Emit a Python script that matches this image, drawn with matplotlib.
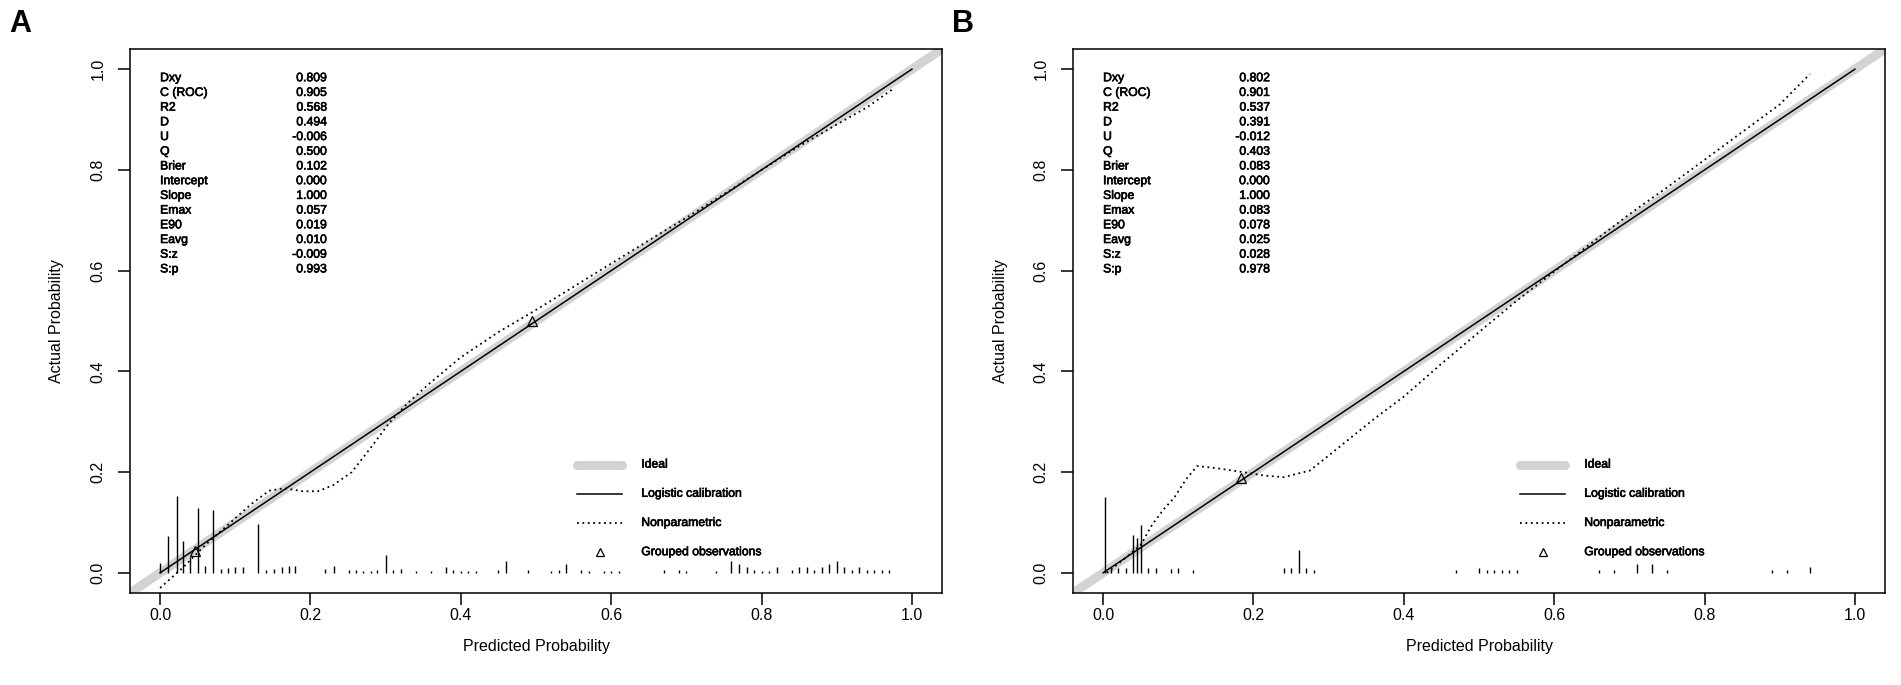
import matplotlib
matplotlib.use("Agg")
import matplotlib.pyplot as plt
import matplotlib.patheffects as pe

plt.rcParams['font.family'] = ['Liberation Sans', 'DejaVu Sans']

# 坐标刻度
ticks = [0.0, 0.2, 0.4, 0.6, 0.8, 1.0]
tick_labels = ['0.0', '0.2', '0.4', '0.6', '0.8', '1.0']

# 统计量
stat_names = ['Dxy', 'C (ROC)', 'R2', 'D', 'U', 'Q', 'Brier', 'Intercept',
              'Slope', 'Emax', 'E90', 'Eavg', 'S:z', 'S:p']
stats_a = ['0.809', '0.905', '0.568', '0.494', '-0.006', '0.500', '0.102',
           '0.000', '1.000', '0.057', '0.019', '0.010', '-0.009', '0.993']
stats_b = ['0.802', '0.901', '0.537', '0.391', '-0.012', '0.403', '0.083',
           '0.000', '1.000', '0.083', '0.078', '0.025', '0.028', '0.978']

legend_names = ['Ideal', 'Logistic calibration', 'Nonparametric', 'Grouped observations']

# logistic calibration (intercept 0, slope 1)
logit_x = [0.0, 1.0]
logit_y = [0.0, 1.0]

# nonparametric 曲线 A
np_x_a = [0.0, 0.03, 0.06, 0.09, 0.12, 0.145, 0.165, 0.19, 0.21, 0.23, 0.255,
          0.28, 0.305, 0.33, 0.36, 0.4, 0.45, 0.5, 0.55, 0.6, 0.65, 0.7,
          0.75, 0.8, 0.85, 0.9, 0.94, 0.976]
np_y_a = [-0.03, 0.01, 0.055, 0.095, 0.135, 0.163, 0.168, 0.162, 0.162, 0.174,
          0.2, 0.248, 0.298, 0.338, 0.378, 0.428, 0.478, 0.522, 0.568, 0.614,
          0.66, 0.705, 0.752, 0.8, 0.847, 0.89, 0.924, 0.962]

# nonparametric 曲线 B
np_x_b = [0.005, 0.03, 0.05, 0.065, 0.08, 0.095, 0.11, 0.125, 0.15, 0.186,
          0.215, 0.24, 0.275, 0.306, 0.335, 0.36, 0.4, 0.45, 0.5, 0.55, 0.6,
          0.65, 0.7, 0.75, 0.8, 0.85, 0.9, 0.94]
np_y_b = [0.0, 0.03, 0.055, 0.095, 0.125, 0.15, 0.185, 0.212, 0.208, 0.2,
          0.193, 0.19, 0.203, 0.24, 0.275, 0.305, 0.35, 0.415, 0.478, 0.54,
          0.598, 0.655, 0.712, 0.765, 0.82, 0.875, 0.93, 0.99]

# grouped observations
grp_x_a = [0.047, 0.495]
grp_y_a = [0.044, 0.5]
grp_x_b = [0.184]
grp_y_b = [0.189]

# 预测概率分布 (spikes)
spike_x_a = [0.0, 0.01, 0.022, 0.031, 0.04, 0.051, 0.06, 0.07, 0.081, 0.091,
             0.1, 0.11, 0.13, 0.141, 0.151, 0.162, 0.172, 0.18, 0.22, 0.231,
             0.251, 0.26, 0.27, 0.28, 0.289, 0.3, 0.31, 0.32, 0.34, 0.36,
             0.38, 0.39, 0.4, 0.41, 0.42, 0.45, 0.46, 0.49, 0.52, 0.53, 0.54,
             0.56, 0.57, 0.59, 0.6, 0.61, 0.67, 0.69, 0.7, 0.74, 0.76, 0.77,
             0.78, 0.79, 0.8, 0.81, 0.82, 0.84, 0.85, 0.86, 0.87, 0.88, 0.89,
             0.9, 0.91, 0.92, 0.93, 0.94, 0.95, 0.96, 0.97]
spike_h_a = [0.019, 0.073, 0.153, 0.063, 0.032, 0.128, 0.014, 0.125, 0.007, 0.01,
             0.012, 0.012, 0.096, 0.006, 0.007, 0.011, 0.014, 0.014, 0.007, 0.014,
             0.006, 0.006, 0.004, 0.004, 0.006, 0.035, 0.006, 0.007, 0.004, 0.004,
             0.012, 0.006, 0.004, 0.004, 0.004, 0.006, 0.024, 0.006, 0.004, 0.006,
             0.018, 0.006, 0.004, 0.004, 0.004, 0.004, 0.006, 0.006, 0.004, 0.004,
             0.024, 0.018, 0.012, 0.006, 0.004, 0.004, 0.012, 0.006, 0.012, 0.012,
             0.006, 0.012, 0.018, 0.024, 0.012, 0.006, 0.012, 0.006, 0.006, 0.006,
             0.006]
spike_x_b = [0.003, 0.01, 0.02, 0.03, 0.04, 0.045, 0.05, 0.06, 0.07, 0.09, 0.1,
             0.12, 0.24, 0.25, 0.26, 0.27, 0.28, 0.47, 0.5, 0.51, 0.52, 0.53,
             0.54, 0.55, 0.66, 0.68, 0.71, 0.73, 0.75, 0.89, 0.91, 0.94]
spike_h_b = [0.151, 0.008, 0.01, 0.01, 0.075, 0.07, 0.095, 0.01, 0.01, 0.008, 0.01,
             0.006, 0.01, 0.01, 0.045, 0.01, 0.006, 0.006, 0.01, 0.006, 0.006, 0.006,
             0.006, 0.006, 0.006, 0.006, 0.018, 0.018, 0.006, 0.006, 0.006, 0.012]

GRAY = '#d3d3d3'
DOT = (0, (1, 2))
# 小字稍微加粗一点
THICK = [pe.withStroke(linewidth=0.45, foreground='black')]


def draw_panel(ax, np_x, np_y, grp_x, grp_y, spike_x, spike_h, stats):
    ax.set_xlim(-0.04, 1.04)
    ax.set_ylim(-0.04, 1.04)
    # ideal
    ax.plot([-0.1, 1.1], [-0.1, 1.1], color=GRAY, lw=6.5, solid_capstyle='butt', zorder=1)
    # logistic
    ax.plot(logit_x, logit_y, color='black', lw=1.1, zorder=3)
    # nonparametric
    ax.plot(np_x, np_y, color='black', lw=1.3, linestyle=DOT, zorder=3)
    ax.plot(grp_x, grp_y, linestyle='none', marker='^', ms=7, mfc='none',
            mec='black', mew=0.9, zorder=4)
    ax.vlines(spike_x, 0, spike_h, color='black', lw=1.0, zorder=3)

    # 统计量文字
    for i, (name, val) in enumerate(zip(stat_names, stats)):
        y = 0.982 - i * 0.0292
        ax.text(0.0, y, name, fontsize=8.8, ha='left', va='center', path_effects=THICK)
        ax.text(0.222, y, val, fontsize=8.8, ha='right', va='center', path_effects=THICK)

    # 图例
    rows = [0.215, 0.157, 0.099, 0.041]
    ax.plot([0.555, 0.615], [rows[0]] * 2, color=GRAY, lw=6.5, solid_capstyle='round')
    ax.plot([0.555, 0.615], [rows[1]] * 2, color='black', lw=1.1)
    ax.plot([0.555, 0.615], [rows[2]] * 2, color='black', lw=1.3, linestyle=DOT)
    ax.plot([0.585], [rows[3]], linestyle='none', marker='^', ms=6, mfc='none',
            mec='black', mew=0.9)
    for r, name in zip(rows, legend_names):
        ax.text(0.64, r, name, fontsize=8.8, ha='left', va='center', path_effects=THICK)

    ax.set_xticks(ticks)
    ax.set_xticklabels(tick_labels)
    ax.set_yticks(ticks)
    ax.set_yticklabels(tick_labels, rotation=90, va='center')
    ax.tick_params(direction='out', length=8.5, width=1.1, labelsize=11.5)
    ax.tick_params(axis='y', pad=9)
    ax.tick_params(axis='x', pad=2.5)
    for s in ax.spines.values():
        s.set_linewidth(1.1)


def main():
    fig = plt.figure(figsize=(19.01, 6.85), dpi=100)
    W, H = 1901.0, 685.0
    axa = fig.add_axes([130 / W, (H - 593) / H, 812 / W, 544 / H])
    axb = fig.add_axes([1073 / W, (H - 593) / H, 812 / W, 544 / H])

    draw_panel(axa, np_x_a, np_y_a, grp_x_a, grp_y_a, spike_x_a, spike_h_a, stats_a)
    draw_panel(axb, np_x_b, np_y_b, grp_x_b, grp_y_b, spike_x_b, spike_h_b, stats_b)

    for left, letter in [(130, 'A'), (1073, 'B')]:
        fig.text((left + 406) / W, 1 - 647 / H, 'Predicted Probability',
                 fontsize=11.5, ha='center', va='center')
        fig.text((left - 73) / W, 1 - 321 / H, 'Actual Probability',
                 fontsize=11.5, ha='center', va='center', rotation=90)
        fig.text((left - 110) / W, 1 - 24 / H, letter, fontsize=22,
                 fontweight='bold', ha='center', va='center')

    fig.savefig('out.png', dpi=100)


if __name__ == '__main__':
    main()
